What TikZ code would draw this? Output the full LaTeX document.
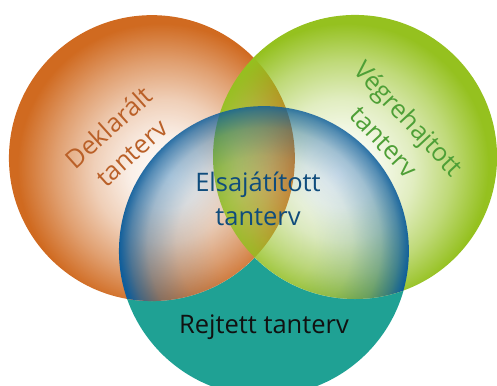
\documentclass[tikz,border=0pt]{standalone}
\usepackage{fontspec}
\setmainfont{Open Sans}
\usetikzlibrary{fadings}
\definecolor{corange}{HTML}{D06A20}
\definecolor{cgreen}{HTML}{95C11F}
\definecolor{cblue}{HTML}{0E5E9C}
\definecolor{cteal}{HTML}{1FA194}
\definecolor{torange}{HTML}{BA6028}
\definecolor{tgreen}{HTML}{4E9F36}
\definecolor{tblue}{HTML}{0F4C7C}
\definecolor{tblack}{HTML}{111111}
% black = transparent, white = opaque
\pgfdeclareradialshading{ringO}{\pgfpoint{3bp}{-3bp}}{color(0bp)=(black); color(6.25bp)=(black!90); color(12.5bp)=(black!68); color(18.75bp)=(black!36); color(25bp)=(white); color(50bp)=(white)}
\pgfdeclarefading{fadeO}{\pgfuseshading{ringO}}
\pgfdeclareradialshading{ringG}{\pgfpoint{-3bp}{-3bp}}{color(0bp)=(black); color(6.25bp)=(black!92); color(12.5bp)=(black!72); color(18.75bp)=(black!40); color(25bp)=(white); color(50bp)=(white)}
\pgfdeclarefading{fadeG}{\pgfuseshading{ringG}}
\pgfdeclareradialshading{ringB}{\pgfpoint{0bp}{2bp}}{color(0bp)=(black); color(9bp)=(black!97); color(15bp)=(black!86); color(20bp)=(black!62); color(23bp)=(black!30); color(25bp)=(white); color(50bp)=(white)}
\pgfdeclarefading{fadeB}{\pgfuseshading{ringB}}
\tikzset{
  lbl/.style={font=\fontsize{25.5}{34}\selectfont, align=center, inner sep=0pt},
}
\begin{document}
\begin{tikzpicture}[x=1pt, y=-1pt]
\useasboundingbox (0,0) rectangle (497,385);
\coordinate (co) at (152,158);
\coordinate (cg) at (355,157);
\coordinate (cb) at (264,251);
% teal base of the bottom circle
\fill[cteal] (cb) circle[radius=145];
% white under the two upper circles
\fill[white] (co) circle[radius=143];
\fill[white] (cg) circle[radius=142];
% orange and green circles
\fill[corange, path fading=fadeO] (co) circle[radius=143];
\fill[cgreen, path fading=fadeG] (cg) circle[radius=142];
% blue part of the bottom circle
\begin{scope}
  \clip (co) circle[radius=143] (cg) circle[radius=142];
  \fill[cblue, path fading=fadeB] (cb) circle[radius=145];
\end{scope}
% labels
\node[lbl, text=torange, rotate=42] (dek) at (120,140) {Deklarált\\tanterv};
\node[lbl, text=tgreen, rotate=-47] (veg) at (397,130) {Végrehajtott\\tanterv};
\node[lbl, text=tblue] (els) at (258,199) {Elsajátított\\tanterv};
\node[lbl, text=tblack, anchor=base] (rej) at (264,333) {Rejtett tanterv};
\end{tikzpicture}
\end{document}
